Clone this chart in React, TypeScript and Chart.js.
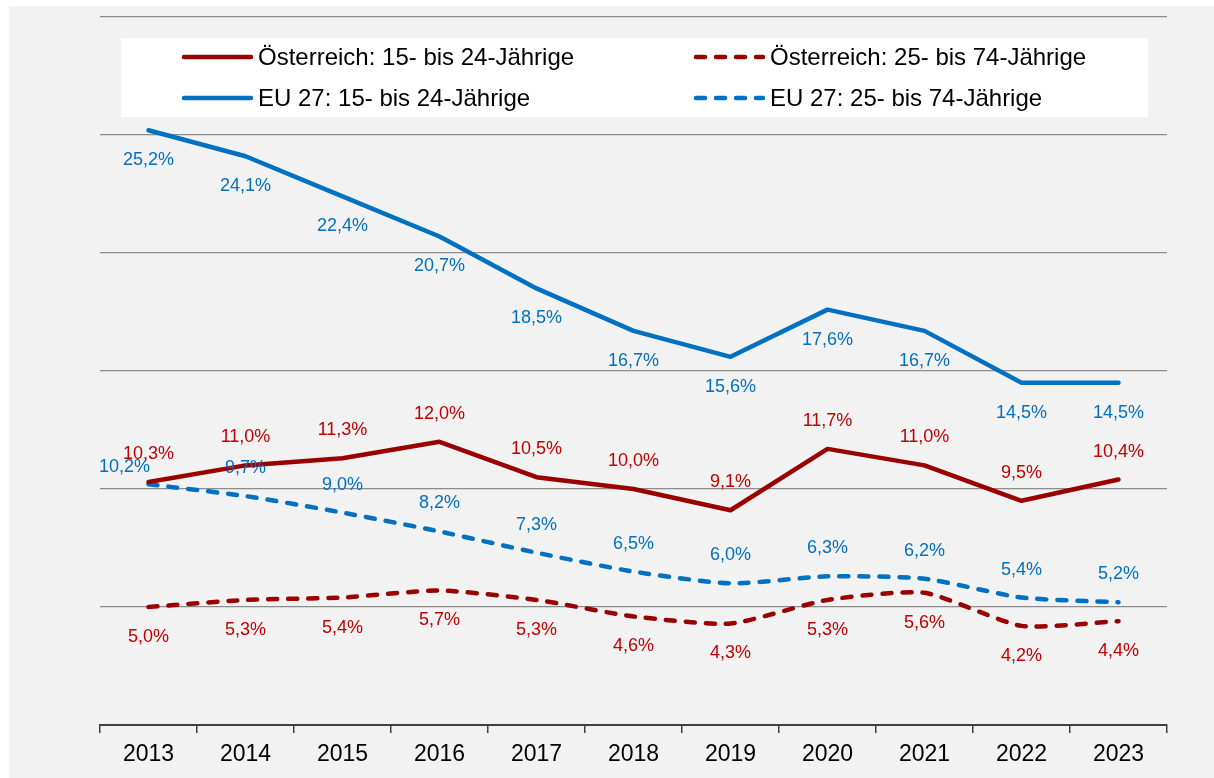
import React, { useEffect, useRef } from "react";
import { Chart, registerables } from "chart.js";

Chart.register(...registerables);

const years = ["2013", "2014", "2015", "2016", "2017", "2018", "2019", "2020", "2021", "2022", "2023"];
const atYouth = [10.3, 11.0, 11.3, 12.0, 10.5, 10.0, 9.1, 11.7, 11.0, 9.5, 10.4];
const atAdult = [5.0, 5.3, 5.4, 5.7, 5.3, 4.6, 4.3, 5.3, 5.6, 4.2, 4.4];
const euYouth = [25.2, 24.1, 22.4, 20.7, 18.5, 16.7, 15.6, 17.6, 16.7, 14.5, 14.5];
const euAdult = [10.2, 9.7, 9.0, 8.2, 7.3, 6.5, 6.0, 6.3, 6.2, 5.4, 5.2];
const seriesNames = [
  "Österreich: 15- bis 24-Jährige",
  "Österreich: 25- bis 74-Jährige",
  "EU 27: 15- bis 24-Jährige",
  "EU 27: 25- bis 74-Jährige",
];

const RED = "#990000";
const RED_TEXT = "#C00000";
const BLUE = "#0070C0";
const FONT = "'Liberation Sans', Arial, sans-serif";

const fmt = (v: number) => v.toFixed(1).replace(".", ",") + "%";

const labelPlugin = {
  id: "valueLabels",
  afterDatasetsDraw(chart: any) {
    const ctx = chart.ctx;
    ctx.save();
    ctx.font = `18px ${FONT}`;
    ctx.textAlign = "center";
    ctx.textBaseline = "middle";
    chart.data.datasets.forEach((ds: any, di: number) => {
      const meta = chart.getDatasetMeta(di);
      const cfg = ds.labelCfg || {};
      ctx.fillStyle = cfg.color;
      meta.data.forEach((pt: any, i: number) => {
        let dx = 0;
        let dy = cfg.pos === "above" ? -28 : 30;
        if (cfg.overrides && cfg.overrides[i]) {
          dx = cfg.overrides[i][0];
          dy = cfg.overrides[i][1];
        }
        ctx.fillText(fmt(ds.data[i]), pt.x + dx, pt.y + dy);
      });
    });
    ctx.restore();
  },
};

const legendPlugin = {
  id: "boxLegend",
  afterDraw(chart: any) {
    const ctx = chart.ctx;
    const ca = chart.chartArea;
    const left = ca.left + 21;
    const right = ca.right - 19;
    const top = ca.top + 21;
    const h = 79;
    ctx.save();
    ctx.fillStyle = "#ffffff";
    ctx.fillRect(left, top, right - left, h);
    const cols = [left + 61, left + 573];
    const rows = [top + 19, top + 60];
    const order = [0, 1, 2, 3];
    order.forEach((di, k) => {
      const ds = chart.data.datasets[di];
      const x = cols[k % 2];
      const y = rows[Math.floor(k / 2)];
      ctx.strokeStyle = ds.borderColor;
      ctx.lineWidth = 4.5;
      ctx.lineCap = "round";
      ctx.setLineDash(ds.borderDash || []);
      ctx.beginPath();
      ctx.moveTo(x + 2, y);
      ctx.lineTo(x + 69, y);
      ctx.stroke();
      ctx.setLineDash([]);
      ctx.fillStyle = "#000000";
      ctx.font = `24px ${FONT}`;
      ctx.textAlign = "left";
      ctx.textBaseline = "middle";
      ctx.fillText(ds.label, x + 76, y + 1);
    });
    ctx.restore();
  },
};

export default function App() {
  const ref = useRef<HTMLCanvasElement | null>(null);
  useEffect(() => {
    if (!ref.current) return;
    const chart = new Chart(ref.current, {
      type: "line",
      data: {
        labels: years,
        datasets: [
          {
            label: seriesNames[0],
            data: atYouth,
            borderColor: RED,
            borderWidth: 4.5,
            pointRadius: 0,
            tension: 0,
            borderCapStyle: "round",
            borderJoinStyle: "round",
            labelCfg: { pos: "above", color: RED_TEXT },
          } as any,
          {
            label: seriesNames[1],
            data: atAdult,
            borderColor: RED,
            borderWidth: 4.5,
            borderDash: [9, 11],
            borderCapStyle: "round",
            pointRadius: 0,
            tension: 0.2,
            labelCfg: { pos: "below", color: RED_TEXT },
          } as any,
          {
            label: seriesNames[2],
            data: euYouth,
            borderColor: BLUE,
            borderWidth: 4.5,
            pointRadius: 0,
            tension: 0,
            borderCapStyle: "round",
            borderJoinStyle: "round",
            labelCfg: { pos: "below", color: BLUE },
          } as any,
          {
            label: seriesNames[3],
            data: euAdult,
            borderColor: BLUE,
            borderWidth: 4.5,
            borderDash: [9, 11],
            borderCapStyle: "round",
            pointRadius: 0,
            tension: 0.2,
            labelCfg: { pos: "above", color: BLUE, overrides: { 0: [-24, -17] } },
          } as any,
        ],
      },
      options: {
        animation: false,
        responsive: true,
        maintainAspectRatio: false,
        layout: { padding: { left: 91, right: 47, top: 11, bottom: 0 } },
        plugins: { legend: { display: false }, tooltip: { enabled: false } },
        scales: {
          x: {
            offset: true,
            grid: {
              offset: true,
              drawOnChartArea: false,
              drawTicks: true,
              tickLength: 8,
              color: "#404040",
              lineWidth: 1.5,
            },
            border: { display: true, color: "#404040", width: 2 },
            ticks: { color: "#000000", font: { family: FONT, size: 23 }, padding: 8 },
            afterFit: (s: any) => {
              s.height = 53;
            },
          },
          y: {
            min: 0,
            max: 30,
            ticks: { stepSize: 5, display: false },
            grid: { color: "#8c8c8c", lineWidth: 1.2, drawTicks: false },
            border: { display: false },
            afterFit: (s: any) => {
              s.width = 0;
            },
          },
        },
      },
      plugins: [labelPlugin, legendPlugin],
    });
    return () => chart.destroy();
  }, []);
  return (
    <div
      style={{
        position: "absolute",
        left: 9,
        top: 6,
        width: 1205,
        height: 772,
        background: "#f2f2f2",
      }}
    >
      <canvas ref={ref} />
    </div>
  );
}
